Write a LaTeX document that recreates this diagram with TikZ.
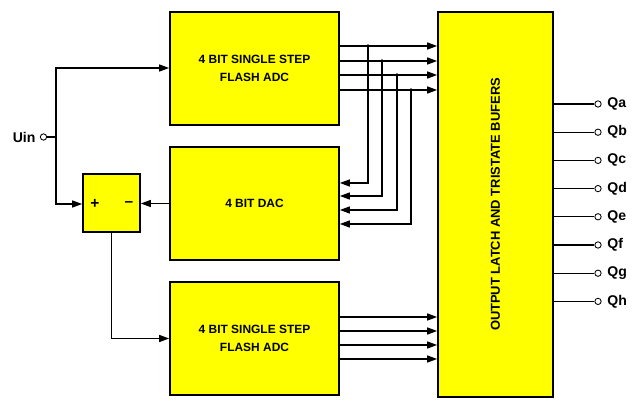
\documentclass[tikz,border=0pt]{standalone}
\usepackage{fontspec}
\setmainfont{Liberation Sans}
\usetikzlibrary{arrows.meta}
\definecolor{Y1}{RGB}{255,255,0}

\begin{document}
\begin{tikzpicture}[x=0.025cm, y=-0.025cm,
    font=\bfseries\fontsize{8.5}{13}\selectfont,
    blk/.style={draw, line width=1.3pt, fill=Y1, align=center, inner sep=0pt},
    wire/.style={line width=0.8pt},
    arr/.style={wire, -{Triangle[length=7pt,width=5pt]}},
    pin/.style={circle, draw, line width=0.6pt, fill=white, inner sep=0pt, minimum size=4.5pt},
    tap/.style={circle, fill, inner sep=0pt, minimum size=2.6pt},
    lbl/.style={inner sep=1pt, font=\bfseries\fontsize{10}{12}\selectfont}]
  \useasboundingbox (0,0) rectangle (640,406);
  % blocks
  \node[blk, minimum width=4.225cm, minimum height=2.825cm] (adc1) at (254.5,68.5) {4 BIT SINGLE STEP\\FLASH ADC};
  \node[blk, minimum width=4.225cm, minimum height=2.825cm] (dac) at (254.5,203.5) {4 BIT DAC};
  \node[blk, minimum width=4.225cm, minimum height=2.825cm] (adc2) at (254.5,338.5) {4 BIT SINGLE STEP\\FLASH ADC};
  \node[blk, minimum width=2.875cm, minimum height=9.625cm] (out) at (495.5,204.5)
    {\rotatebox{90}{\fontsize{9.2}{11}\selectfont OUTPUT LATCH AND TRISTATE BUFERS}};
  \node[blk, minimum width=1.425cm, minimum height=1.45cm] (sum) at (111.5,203) {};
  \node[font=\bfseries\fontsize{11}{11}\selectfont] (plus) at (95,204) {+};
  \node[font=\bfseries\fontsize{11}{11}\selectfont] (minus) at (129,204) {--};
  % input
  \node[pin] (uin) at (43.5,137) {};
  \node[lbl, anchor=east] (uinlbl) at ([xshift=-2pt]uin.west) {Uin};
  \coordinate (split) at (56,137);
  \draw[wire] (uin) -- (split);
  \draw[arr] (split) |- (adc1.west |- 0,68);
  \draw[arr] (split) |- (sum.west |- 0,204);
  \draw[arr] (dac.west) -- (sum.east |- dac.west);
  \draw[arr] (sum.south) |- (adc2.west);
  % buses
  \foreach \i/\ya/\xt/\yd in {1/46/368/183, 2/61/382/196, 3/75/397/210, 4/90/411/224} {
    \draw[arr] (adc1.east |- 0,\ya) -- (out.west |- 0,\ya);
    \node[tap] (t\i) at (\xt,\ya) {};
    \draw[arr] (t\i.center) |- (dac.east |- 0,\yd);
  }
  \foreach \y in {317,331,345,359}
    \draw[arr] (adc2.east |- 0,\y) -- (out.west |- 0,\y);
  % outputs
  \foreach \q [count=\k from 0] in {a,b,c,d,e,f,g,h} {
    \node[pin] (q\q) at (598,104+28.2*\k) {};
    \draw[wire] (out.east |- q\q) -- (q\q.west);
    \node[lbl, anchor=west] (l\q) at ([xshift=3pt]q\q.east) {Q\q};
  }
\end{tikzpicture}
\end{document}
